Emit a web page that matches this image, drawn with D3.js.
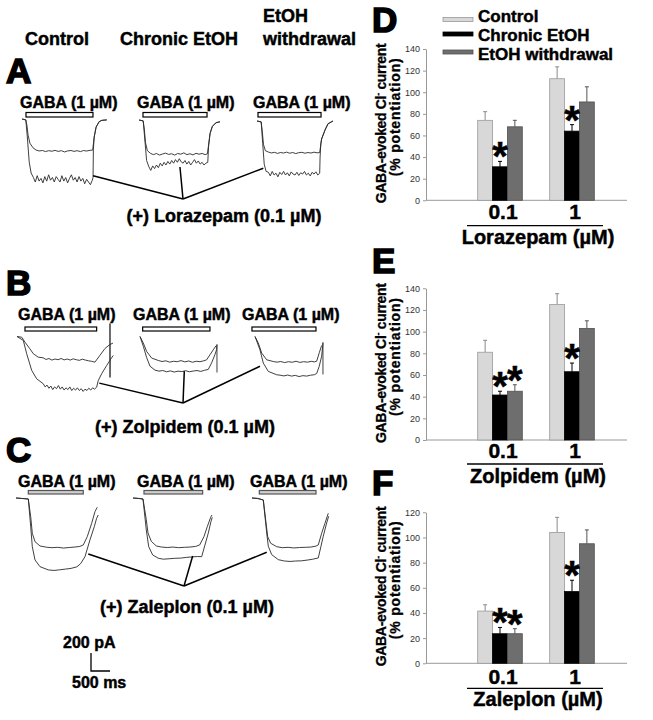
<!DOCTYPE html>
<html lang="en">
<head>
<meta charset="utf-8">
<script src="https://cdn.jsdelivr.net/npm/d3@7/dist/d3.min.js"></script>
<style>
  body { margin: 0; background: #fff; }
  svg text { font-family: "Liberation Sans", Arial, sans-serif; font-weight: bold; }
  .heavy { stroke: #000; stroke-width: 0.45px; }
  .ylab { stroke: #000; stroke-width: 0.3px; }
  .letter { stroke: #000; stroke-width: 1.6px; }
</style>
</head>
<body>
<svg id="fig" width="653" height="720"></svg>
<script>
// ---------- bar charts: GABA current, % potentiation ----------
var doses = ["0.1", "1"];
var groupNames = ["Control", "Chronic EtOH", "EtOH withdrawal"];

var loraControl = [74, 112.5], loraControlErr = [8, 11];
var loraChronic = [31, 64], loraChronicErr = [5, 6];
var loraWithdrawal = [68, 91], loraWithdrawalErr = [6, 14];
var loraStars = [[1, 0], [1, 1]]; // [group, dose]

var zolpControl = [81, 125], zolpControlErr = [11, 10];
var zolpChronic = [41.5, 63], zolpChronicErr = [3.5, 8];
var zolpWithdrawal = [45, 103], zolpWithdrawalErr = [6, 7];
var zolpStars = [[1, 0], [2, 0], [1, 1]];

var zalControl = [41.5, 104], zalControlErr = [5, 12];
var zalChronic = [23.5, 57], zalChronicErr = [5, 9];
var zalWithdrawal = [23.5, 95], zalWithdrawalErr = [4, 11];
var zalStars = [[1, 0], [2, 0], [1, 1]];

// ---------- current traces: [time ms, current pA] ----------
// row A (lorazepam)
var aCtrlUp = [[0,0],[100,-10],[130,-70],[160,-180],[210,-270],[290,-320],[370,-345],[450,-355],[540,-350],[620,-362],[700,-352],[790,-358],[870,-348],[950,-360],[1040,-352],[1120,-366],[1200,-355],[1290,-350],[1370,-360],[1450,-352],[1540,-362],[1620,-350],[1700,-356],[1790,-348],[1860,-345],[1900,-200],[1950,-90],[2030,-30],[2100,-15],[2230,-10]];
var aCtrlLo = [[0,0],[100,-10],[140,-200],[190,-480],[240,-600],[300,-650],[350,-700],[400,-630],[450,-690],[500,-660],[550,-710],[600,-640],[650,-690],[700,-620],[750,-680],[800,-650],[850,-700],[900,-640],[950,-670],[1000,-700],[1050,-630],[1100,-690],[1150,-650],[1200,-710],[1250,-660],[1300,-620],[1350,-680],[1400,-650],[1450,-700],[1500,-640],[1550,-690],[1600,-660],[1650,-720],[1700,-670],[1750,-700],[1800,-730],[1850,-680],[1870,-650],[1878,-340],[1900,-200],[1950,-90],[2030,-30],[2100,-15],[2230,-10]];
var aChrUp = [[0,0],[110,-10],[140,-100],[170,-250],[220,-340],[300,-370],[380,-385],[460,-372],[540,-390],[620,-378],[700,-368],[780,-382],[860,-375],[940,-390],[1020,-372],[1100,-380],[1180,-365],[1260,-385],[1340,-375],[1420,-388],[1500,-370],[1580,-380],[1660,-372],[1740,-385],[1800,-375],[1830,-280],[1870,-150],[1930,-70],[2030,-30],[2130,-20]];
var aChrLo = [[0,0],[110,-10],[150,-200],[200,-450],[260,-520],[310,-560],[360,-510],[410,-540],[460,-500],[510,-530],[560,-480],[610,-510],[660,-470],[710,-500],[760,-460],[810,-490],[860,-450],[910,-480],[960,-440],[1010,-470],[1060,-430],[1110,-465],[1160,-480],[1210,-450],[1260,-490],[1310,-460],[1360,-500],[1410,-470],[1460,-440],[1510,-480],[1560,-455],[1610,-490],[1660,-470],[1710,-500],[1760,-480],[1810,-470],[1830,-300],[1870,-150],[1930,-70],[2030,-30],[2130,-20]];
var aWdUp = [[0,0],[110,-10],[140,-120],[170,-260],[220,-330],[300,-345],[380,-355],[460,-348],[540,-360],[620,-350],[700,-356],[780,-346],[860,-358],[940,-350],[1020,-362],[1100,-352],[1180,-348],[1260,-358],[1340,-350],[1420,-356],[1500,-346],[1580,-354],[1650,-350],[1700,-200],[1790,-100],[1870,-30],[2000,0]];
var aWdLo = [[0,0],[110,-10],[150,-250],[190,-480],[240,-560],[300,-570],[350,-610],[400,-560],[450,-600],[500,-580],[550,-620],[600,-570],[650,-595],[700,-560],[750,-600],[800,-575],[850,-610],[900,-565],[950,-590],[1000,-600],[1050,-570],[1100,-605],[1150,-575],[1200,-590],[1250,-560],[1300,-600],[1350,-580],[1400,-610],[1450,-570],[1500,-590],[1550,-565],[1600,-600],[1650,-580],[1660,-400],[1680,-250],[1700,-200],[1790,-100],[1870,-30],[2000,0]];

// row B (zolpidem)
var bCtrlUp = [[0,0],[125,-8],[210,-63],[340,-137],[430,-192],[560,-230],[685,-236],[760,-255],[840,-245],[920,-262],[1000,-250],[1080,-258],[1160,-244],[1240,-260],[1320,-250],[1400,-262],[1480,-248],[1560,-258],[1640,-265],[1720,-252],[1800,-262],[1880,-270],[1960,-275],[2050,-285],[2180,-211],[2315,-133],[2445,-89],[2525,-74]];
var bCtrlLo = [[0,0],[166,-44],[255,-192],[387,-377],[518,-470],[692,-525],[740,-560],[790,-540],[840,-575],[890,-550],[940,-590],[990,-560],[1040,-580],[1090,-545],[1140,-585],[1190,-560],[1240,-595],[1290,-570],[1340,-590],[1390,-560],[1440,-600],[1490,-575],[1540,-595],[1590,-570],[1640,-600],[1690,-580],[1740,-610],[1790,-585],[1840,-600],[1890,-575],[1940,-595],[1990,-570],[2040,-585],[2096,-563],[2140,-488],[2228,-414],[2360,-322],[2446,-266],[2447,144],[2448,-455],[2450,-260],[2533,-211]];
var bChrUp = [[0,0],[87,-73],[176,-167],[308,-240],[481,-266],[580,-278],[680,-270],[780,-285],[880,-275],[980,-280],[1080,-268],[1180,-282],[1280,-272],[1380,-286],[1480,-275],[1580,-280],[1680,-270],[1754,-259],[1841,-203],[1928,-148],[2000,-103]];
var bChrLo = [[0,0],[87,-108],[176,-236],[263,-330],[395,-374],[500,-385],[600,-378],[700,-392],[800,-382],[900,-395],[1000,-385],[1100,-390],[1200,-380],[1300,-392],[1400,-384],[1500,-378],[1600,-388],[1700,-375],[1796,-366],[1886,-292],[1973,-200],[2017,-144],[2025,-89],[2026,-400]];
var bWdUp = [[0,0],[87,-73],[176,-184],[308,-259],[481,-278],[580,-285],[680,-278],[780,-290],[880,-280],[980,-286],[1080,-275],[1180,-288],[1280,-280],[1380,-285],[1480,-276],[1560,-282],[1623,-274],[1691,-181],[1754,-100]];
var bWdLo = [[0,0],[131,-148],[218,-295],[350,-388],[571,-425],[660,-430],[760,-438],[860,-428],[960,-440],[1060,-432],[1160,-445],[1260,-435],[1360,-440],[1460,-430],[1560,-425],[1623,-411],[1691,-330],[1754,-219],[1781,-108],[1788,-67],[1789,-422]];

// row C (zaleplon)
var cCtrlUp = [[0,0],[150,-5],[324,-11],[387,-208],[429,-392],[500,-485],[631,-533],[807,-547],[950,-552],[1100,-548],[1250,-556],[1400,-550],[1550,-545],[1680,-538],[1770,-522],[1875,-430],[1991,-281],[2078,-152],[2138,-103]];
var cCtrlLo = [[0,0],[150,-5],[324,-11],[387,-319],[429,-541],[500,-688],[631,-763],[850,-799],[1000,-805],[1150,-798],[1300,-790],[1450,-782],[1600,-765],[1700,-730],[1815,-652],[1946,-466],[2060,-319],[2122,-225],[2165,-189]];
var cChrUp = [[0,0],[150,-5],[263,-11],[350,-241],[395,-389],[481,-481],[613,-533],[750,-545],[900,-550],[1050,-545],[1200,-552],[1350,-548],[1500,-545],[1650,-538],[1754,-522],[1867,-430],[1954,-319],[2044,-214],[2078,-189]];
var cChrLo = [[0,0],[150,-5],[263,-11],[350,-355],[413,-541],[518,-633],[665,-669],[800,-680],[950,-675],[1100,-670],[1250,-668],[1400,-660],[1550,-655],[1700,-650],[1807,-652],[1894,-522],[1980,-392],[2051,-263],[2086,-214]];
var cWdUp = [[0,0],[150,-5],[297,-22],[360,-244],[413,-430],[492,-503],[650,-541],[800,-552],[950,-548],[1100,-555],[1250,-550],[1400,-548],[1550,-545],[1680,-535],[1744,-522],[1833,-392],[1920,-281],[2007,-170]];
var cWdLo = [[0,0],[150,-5],[297,-22],[387,-389],[429,-536],[518,-629],[692,-685],[850,-700],[1000,-705],[1150,-700],[1300,-698],[1450,-690],[1600,-680],[1744,-666],[1815,-536],[1875,-425],[1965,-278],[2017,-203]];

// GABA application windows [start, end] in ms for each trace column
var aGaba = [[105, 1868], [105, 1790], [26, 1685]];
var bGaba = [[210, 2096], [70, 1841], [-80, 1605]];
var cGaba = [[324, 1770], [289, 1833], [193, 1684]];

// points on the drug traces where the pointer lines start [ms, pA]
var aLinks = [[1870, -630], [1078, -522], [166, -525]];
var bLinks = [[2165, -518], [1166, -385], [131, -330]];
var cLinks = [[1902, -622], [1570, -644], [387, -603]];

var scaleBarI = 200, scaleBarT = 500;

// ---------- drawing ----------
var svg = d3.select("#fig");

// time & current scales for traces (from 200 pA / 500 ms scale bar)
var tx = d3.scaleLinear().domain([0, 500]).range([0, 19]);
var iy = d3.scaleLinear().domain([0, -200]).range([0, 18]);

// column headers
svg.append("text").attr("class", "heavy").attr("x", 25).attr("y", 45).attr("font-size", 18).text("Control");
svg.append("text").attr("class", "heavy").attr("x", 120).attr("y", 45).attr("font-size", 18).text("Chronic EtOH");
svg.append("text").attr("class", "heavy").attr("x", 263).attr("y", 22).attr("font-size", 18).text("EtOH");
svg.append("text").attr("class", "heavy").attr("x", 263).attr("y", 45).attr("font-size", 18).text("withdrawal");

var rows = [
  { letter: "A", letterY: 83, x0: [22, 139, 257], y0: [119, 120, 121], labelX: [20, 137, 253], labelY: 108,
    barY: 112.5, barH: 4.5, barFill: "#fff", barStroke: "#000",
    traces: [[aCtrlUp, aCtrlLo], [aChrUp, aChrLo], [aWdUp, aWdLo]], gaba: aGaba, links: aLinks,
    hub: [183, 199], drug: "(+) Lorazepam (0.1 µM)", drugX: 224, drugY: 222 },
  { letter: "B", letterY: 295, x0: [17, 140, 255], y0: [336.5, 336.5, 336.5], labelX: [18, 133, 242], labelY: 320,
    barY: 327, barH: 4, barFill: "#fff", barStroke: "#000",
    traces: [[bCtrlUp, bCtrlLo], [bChrUp, bChrLo], [bWdUp, bWdLo]], gaba: bGaba, links: bLinks,
    hub: [183, 403], drug: "(+) Zolpidem (0.1 µM)", drugX: 185, drugY: 433 },
  { letter: "C", letterY: 462, x0: [16, 133, 252], y0: [498, 498, 498], labelX: [18, 137, 250], labelY: 487,
    barY: 490.5, barH: 3.5, barFill: "#cfcfcf", barStroke: "#555",
    traces: [[cCtrlUp, cCtrlLo], [cChrUp, cChrLo], [cWdUp, cWdLo]], gaba: cGaba, links: cLinks,
    hub: [184, 586], drug: "(+) Zaleplon (0.1 µM)", drugX: 187, drugY: 613 }
];

rows.forEach(function(r) {
  var g = svg.append("g");
  g.append("text").attr("class", "letter").attr("x", 6).attr("y", r.letterY).attr("font-size", 35).text(r.letter);

  r.traces.forEach(function(pair, c) {
    var x0 = r.x0[c], y0 = r.y0[c];
    var line = d3.line()
      .x(function(d) { return x0 + tx(d[0]); })
      .y(function(d) { return y0 + iy(d[1]); });

    g.append("text").attr("class", "heavy").attr("x", r.labelX[c]).attr("y", r.labelY)
      .attr("font-size", 16).text("GABA (1 µM)");
    g.append("rect")
      .attr("x", x0 + tx(r.gaba[c][0])).attr("y", r.barY)
      .attr("width", tx(r.gaba[c][1]) - tx(r.gaba[c][0])).attr("height", r.barH)
      .attr("fill", r.barFill).attr("stroke", r.barStroke).attr("stroke-width", 1.2);

    pair.forEach(function(tr) {
      g.append("path").attr("d", line(tr))
        .attr("fill", "none").attr("stroke", "#2a2a2a").attr("stroke-width", 0.9)
        .attr("stroke-linejoin", "round");
    });

    var p = r.links[c];
    g.append("line")
      .attr("x1", x0 + tx(p[0])).attr("y1", y0 + iy(p[1]))
      .attr("x2", r.hub[0]).attr("y2", r.hub[1])
      .attr("stroke", "#000").attr("stroke-width", 1.5);
  });

  g.append("text").attr("class", "heavy").attr("x", r.drugX).attr("y", r.drugY).attr("font-size", 18)
    .attr("text-anchor", "middle").text(r.drug);
});

// scale bar
var sb = svg.append("g").attr("transform", "translate(91,671)");
sb.append("path")
  .attr("d", "M0," + (-(iy(-scaleBarI))) + "V0H" + tx(scaleBarT))
  .attr("fill", "none").attr("stroke", "#000").attr("stroke-width", 1.3);
svg.append("text").attr("class", "heavy").attr("x", 63).attr("y", 648).attr("font-size", 16).text(scaleBarI + " pA");
svg.append("text").attr("class", "heavy").attr("x", 72).attr("y", 688).attr("font-size", 16).text(scaleBarT + " ms");

// ---------- bar panels ----------
var fills = ["#d8d8d8", "#000000", "#6e6e6e"];
var strokes = ["#9a9a9a", "#000000", "#505050"];
var errColors = ["#8a8a8a", "#000000", "#555555"];

var gx = d3.scalePoint().domain(doses).range([500, 572]);
var sx = d3.scaleBand().domain(groupNames).range([-22.3, 22.3]);

var panels = [
  { letter: "D", letterY: 32, y0: 200.3, yTop: 49, max: 140,
    means: [loraControl, loraChronic, loraWithdrawal], errs: [loraControlErr, loraChronicErr, loraWithdrawalErr],
    stars: loraStars, title: "Lorazepam (µM)", catY: 219, lineY: 225.7, titleY: 244 },
  { letter: "E", letterY: 273, y0: 440, yTop: 288.3, max: 140,
    means: [zolpControl, zolpChronic, zolpWithdrawal], errs: [zolpControlErr, zolpChronicErr, zolpWithdrawalErr],
    stars: zolpStars, title: "Zolpidem (µM)", catY: 458, lineY: 464, titleY: 483 },
  { letter: "F", letterY: 495, y0: 663.3, yTop: 512.3, max: 120,
    means: [zalControl, zalChronic, zalWithdrawal], errs: [zalControlErr, zalChronicErr, zalWithdrawalErr],
    stars: zalStars, title: "Zaleplon (µM)", catY: 684, lineY: 688.3, titleY: 706 }
];

panels.forEach(function(p) {
  var g = svg.append("g");
  var y = d3.scaleLinear().domain([0, p.max]).range([p.y0, p.yTop]);

  g.append("text").attr("class", "letter").attr("x", 372).attr("y", p.letterY).attr("font-size", 35).text(p.letter);

  // y axis
  var ax = g.append("g").attr("transform", "translate(426,0)")
    .call(d3.axisLeft(y).ticks(p.max / 20).tickSize(3).tickSizeOuter(0).tickPadding(3));
  ax.attr("color", "#999");
  ax.selectAll("text").attr("fill", "#333").attr("font-size", 9)
    .style("font-weight", "normal").style("font-family", "'Liberation Sans', Arial, sans-serif");

  // x baseline
  g.append("line").attr("x1", 426).attr("x2", 627).attr("y1", y(0)).attr("y2", y(0))
    .attr("stroke", "#999").attr("stroke-width", 1);

  // y label
  var midY = p.y0 - 77;
  var t1 = g.append("text").attr("class", "ylab").attr("transform", "translate(386," + midY + ") rotate(-90)")
    .attr("text-anchor", "middle").attr("font-size", 14).attr("textLength", 160).attr("lengthAdjust", "spacing");
  t1.append("tspan").text("GABA-evoked Cl");
  t1.append("tspan").attr("dy", -5).attr("font-size", 9).text("-");
  t1.append("tspan").attr("dy", 5).text(" current");
  g.append("text").attr("class", "ylab").attr("transform", "translate(400," + (midY - 6) + ") rotate(-90)")
    .attr("text-anchor", "middle").attr("font-size", 14).attr("textLength", 118).attr("lengthAdjust", "spacing")
    .text("(% potentiation)");

  // bars
  groupNames.forEach(function(name, s) {
    doses.forEach(function(dose, k) {
      var v = p.means[s][k], e = p.errs[s][k];
      var bx = gx(dose) + sx(name), w = sx.bandwidth(), cx = bx + w / 2;
      g.append("line").attr("x1", cx).attr("x2", cx).attr("y1", y(v)).attr("y2", y(v + e))
        .attr("stroke", errColors[s]).attr("stroke-width", 1);
      g.append("line").attr("x1", cx - 2).attr("x2", cx + 2).attr("y1", y(v + e)).attr("y2", y(v + e))
        .attr("stroke", errColors[s]).attr("stroke-width", 1);
      g.append("rect").attr("x", bx).attr("y", y(v)).attr("width", w).attr("height", y(0) - y(v))
        .attr("fill", fills[s]).attr("stroke", strokes[s]).attr("stroke-width", 0.8);
    });
  });

  // significance stars
  p.stars.forEach(function(st) {
    var s = st[0], k = st[1];
    var cx = gx(doses[k]) + sx(groupNames[s]) + sx.bandwidth() / 2;
    var top = y(p.means[s][k] + p.errs[s][k]);
    g.append("text").attr("class", "heavy").attr("x", cx).attr("y", top + 9).attr("text-anchor", "middle")
      .attr("font-size", 40).text("*");
  });

  // dose labels + underline + title
  doses.forEach(function(dose) {
    g.append("text").attr("class", "heavy").attr("x", gx(dose) + 3).attr("y", p.catY).attr("text-anchor", "middle")
      .attr("font-size", 21).text(dose);
  });
  g.append("line").attr("x1", 467).attr("x2", 603).attr("y1", p.lineY).attr("y2", p.lineY)
    .attr("stroke", "#000").attr("stroke-width", 1.3);
  g.append("text").attr("class", "heavy").attr("x", 538).attr("y", p.titleY).attr("text-anchor", "middle")
    .attr("font-size", 20).text(p.title);
});

// legend
var legY = [19.5, 34, 52], legText = [21.5, 40.5, 59.5];
groupNames.forEach(function(name, s) {
  svg.append("rect").attr("x", 443).attr("y", legY[s] - 2).attr("width", 30).attr("height", 4)
    .attr("fill", fills[s]).attr("stroke", strokes[s]).attr("stroke-width", 0.8);
  svg.append("text").attr("class", "heavy").attr("x", 478).attr("y", legText[s]).attr("font-size", 17).text(name);
});
</script>
</body>
</html>
